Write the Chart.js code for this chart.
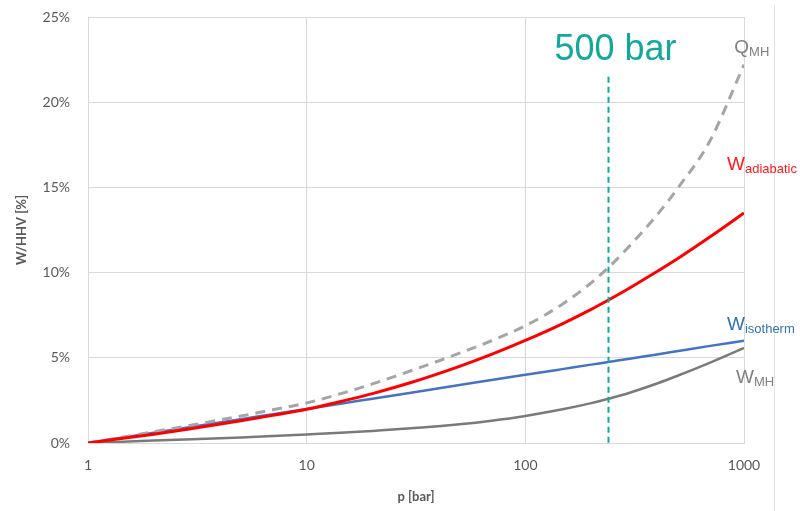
<!DOCTYPE html>
<html>
<head>
<meta charset="utf-8">
<script src="https://cdn.jsdelivr.net/npm/chart.js@4/dist/chart.umd.min.js"></script>
<style>
html,body{margin:0;padding:0;background:#fff;}
#wrap{position:relative;width:800px;height:511px;}
</style>
</head>
<body>
<div id="wrap"><canvas id="c" width="800" height="511"></canvas></div>
<script>
// pressure [bar]
const pressure = [1, 2, 3, 5, 7, 10, 15, 20, 30, 50, 70, 100, 150, 200, 240, 300, 400, 500, 700, 1000];
// values in % of HHV
const qMH        = [0, 0.66, 1.06, 1.58, 1.95, 2.35, 2.97, 3.47, 4.24, 5.27, 6.00, 6.88, 8.20, 9.40, 10.30, 11.57, 13.38, 14.98, 17.75, 22.20];
const wAdiabatic = [0, 0.52, 0.85, 1.30, 1.62, 1.98, 2.50, 2.90, 3.55, 4.50, 5.20, 6.02, 7.04, 7.84, 8.39, 9.10, 10.06, 10.84, 12.10, 13.50];
const wIsotherm  = [0, 0.60, 0.95, 1.40, 1.69, 2.00, 2.35, 2.60, 2.95, 3.40, 3.70, 4.00, 4.35, 4.60, 4.75, 4.95, 5.20, 5.40, 5.70, 6.00];
const wMH        = [0, 0.14, 0.22, 0.33, 0.41, 0.50, 0.61, 0.71, 0.86, 1.10, 1.31, 1.59, 1.99, 2.34, 2.60, 2.95, 3.49, 3.96, 4.72, 5.58];
const xTicks = [1, 10, 100, 1000];
const markerPressure = 240;
const markerLabel = "500 bar";

const pts = arr => pressure.map((p, i) => ({x: p, y: arr[i]}));

const labelsPlugin = {
  id: 'annot',
  afterDraw(chart) {
    const ctx = chart.ctx, xs = chart.scales.x, ys = chart.scales.y;
    ctx.save();
    // faint border line at right
    ctx.strokeStyle = '#e3e3e3'; ctx.lineWidth = 1;
    ctx.beginPath(); ctx.moveTo(774.5, 5); ctx.lineTo(774.5, 511); ctx.stroke();
    // marker line
    const mx = Math.round(xs.getPixelForValue(markerPressure)) + 0.5;
    ctx.strokeStyle = '#14a79c'; ctx.lineWidth = 2; ctx.setLineDash([6, 4]);
    ctx.beginPath(); ctx.moveTo(mx, ys.getPixelForValue(21.5)); ctx.lineTo(mx, ys.getPixelForValue(0)); ctx.stroke();
    ctx.setLineDash([]);
    ctx.fillStyle = '#14a79c'; ctx.font = '36px "Liberation Sans", Arial, sans-serif';
    ctx.textAlign = 'center'; ctx.textBaseline = 'alphabetic';
    ctx.fillText(markerLabel, mx + 7, ys.getPixelForValue(22.5));
    // series labels with subscripts
    const labs = [
      {main: 'Q', sub: 'MH', p: 903, v: 22.9, color: '#7f7f7f'},
      {main: 'W', sub: 'adiabatic', p: 836, v: 16.03, color: '#ff1a1a'},
      {main: 'W', sub: 'isotherm', p: 836, v: 6.64, color: '#2e75b6'},
      {main: 'W', sub: 'MH', p: 919, v: 3.52, color: '#7f7f7f'}
    ];
    ctx.textAlign = 'left';
    labs.forEach(l => {
      const x = xs.getPixelForValue(l.p), y = ys.getPixelForValue(l.v);
      ctx.fillStyle = l.color;
      ctx.font = '19px "Liberation Sans", Arial, sans-serif';
      ctx.fillText(l.main, x, y);
      const w = ctx.measureText(l.main).width;
      ctx.font = '13px "Liberation Sans", Arial, sans-serif';
      ctx.fillText(l.sub, x + w, y + 3);
    });
    ctx.restore();
  }
};

new Chart(document.getElementById('c'), {
  type: 'line',
  data: {
    datasets: [
      {label: 'W_adiabatic', data: pts(wAdiabatic), borderColor: '#ff0000', borderWidth: 3},
      {label: 'Q_MH', data: pts(qMH), borderColor: '#a5a5a5', borderWidth: 3, borderDash: [10, 7]},
      {label: 'W_isotherm', data: pts(wIsotherm), borderColor: '#4472c4', borderWidth: 2.5},
      {label: 'W_MH', data: pts(wMH), borderColor: '#7a7a7a', borderWidth: 2.5}
    ]
  },
  options: {
    responsive: false,
    animation: false,
    layout: {padding: {left: 0, right: 56, top: 17, bottom: 0}},
    elements: {point: {radius: 0}, line: {cubicInterpolationMode: 'monotone', fill: false}},
    plugins: {legend: {display: false}, tooltip: {enabled: false}},
    scales: {
      x: {
        type: 'logarithmic', min: 1, max: 1000,
        afterBuildTicks: s => { s.ticks = xTicks.map(v => ({value: v})); },
        afterFit: s => { s.height = 68; s.paddingLeft = 0; s.paddingRight = 0; },
        ticks: {color: '#595959', font: {family: 'Lato, "Open Sans", sans-serif', size: 14}, padding: 14, maxRotation: 0,
                callback: v => String(v)},
        grid: {color: '#d9d9d9', drawTicks: false},
        border: {color: '#d9d9d9'},
        title: {display: true, text: 'p [bar]', color: '#595959', font: {family: 'Lato, "Open Sans", sans-serif', size: 13, weight: 'bold'}, padding: {top: 0, bottom: 6}}
      },
      y: {
        min: 0, max: 25,
        afterFit: s => { s.width = 88; s.paddingTop = 0; s.paddingBottom = 0; },
        ticks: {stepSize: 5, color: '#595959', font: {family: 'Lato, "Open Sans", sans-serif', size: 14}, padding: 18,
                callback: v => v + '%'},
        grid: {color: '#d9d9d9', drawTicks: false},
        border: {color: '#d9d9d9'},
        title: {display: true, text: 'W/HHV [%]', color: '#595959', font: {family: 'Lato, "Open Sans", sans-serif', size: 13, weight: 'bold'}, padding: {top: 14, bottom: 0}}
      }
    }
  },
  plugins: [labelsPlugin]
});
</script>
</body>
</html>
